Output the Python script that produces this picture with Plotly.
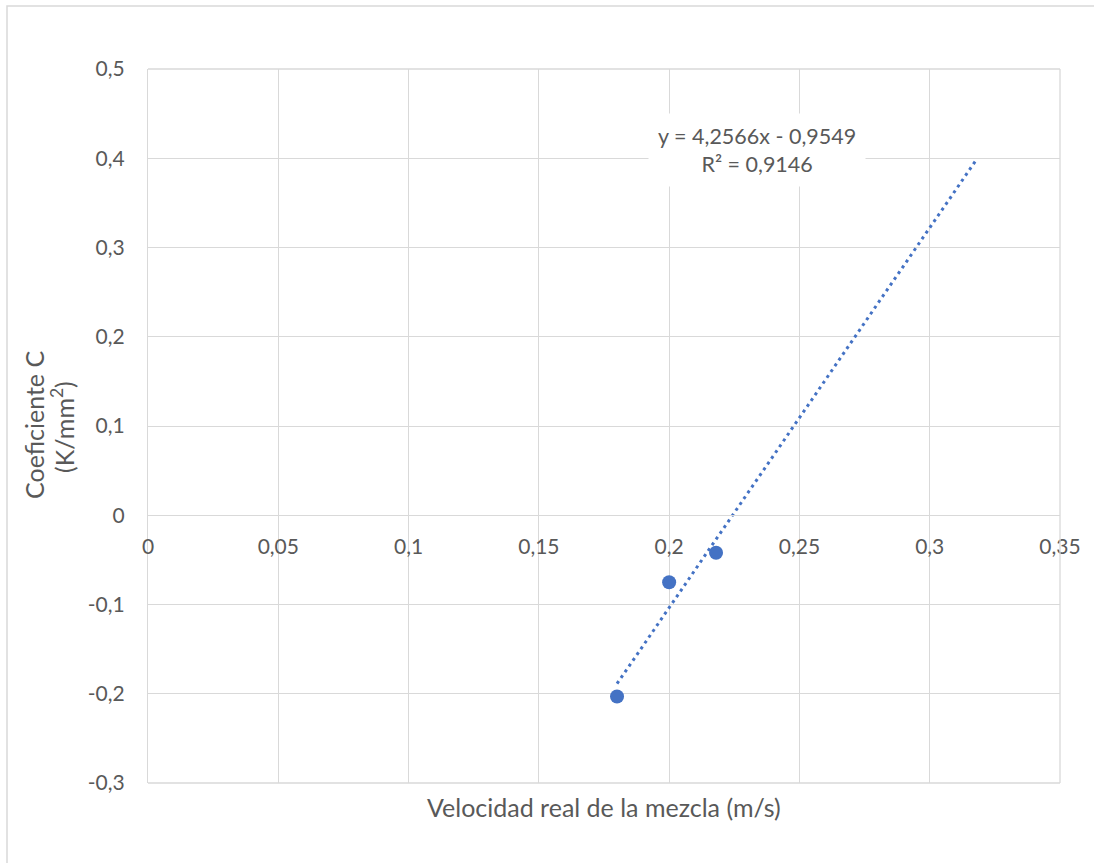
import plotly.graph_objects as go

# Data
velocidad = [0.18, 0.2, 0.218]
coef_c = [-0.203, -0.075, -0.042]
slope = 4.2566
intercept = -0.9549
r2 = 0.9146
trend_x = [0.18, 0.318]
trend_y = [slope * x + intercept for x in trend_x]
x_ticks = [0, 0.05, 0.1, 0.15, 0.2, 0.25, 0.3, 0.35]
x_tick_labels = ["0", "0,05", "0,1", "0,15", "0,2", "0,25", "0,3", "0,35"]
y_ticks = [-0.3, -0.2, -0.1, 0, 0.1, 0.2, 0.3, 0.4, 0.5]
y_tick_labels = ["-0,3", "-0,2", "-0,1", "0", "0,1", "0,2", "0,3", "0,4", "0,5"]

W, H = 1094, 863
L, R, T, B = 148, 34, 69, 80
pw, ph = W - L - R, H - T - B
blue = "#4472C4"
grid = "#d9d9d9"
txt = "#595959"
font = "Lato"
fs = 21

fig = go.Figure()
fig.add_trace(go.Scatter(x=trend_x, y=trend_y, mode="lines",
                         line=dict(color=blue, width=3, dash="3px,4px"),
                         hoverinfo="skip", showlegend=False))
fig.add_trace(go.Scatter(x=velocidad, y=coef_c, mode="markers",
                         marker=dict(color=blue, size=14), showlegend=False))

zero_pos = (0 - (-0.3)) / 0.8

def px_x(p):
    return (p - L) / pw

def px_y(p):
    return (H - B - p) / ph

fig.update_layout(
    width=W, height=H,
    margin=dict(l=L, r=R, t=T, b=B),
    paper_bgcolor="white", plot_bgcolor="white",
    separators=",.",
    font=dict(family=font, size=fs, color=txt),
    xaxis=dict(range=[0, 0.35], tickvals=x_ticks, ticktext=x_tick_labels,
               showgrid=True, gridcolor=grid, gridwidth=1.3,
               zeroline=False, showline=True, linecolor=grid, linewidth=1.3, mirror=False,
               anchor="free", position=zero_pos, ticks="", ticklabelstandoff=12,
               tickfont=dict(size=fs, color=txt, family=font)),
    yaxis=dict(range=[-0.3, 0.5], tickvals=y_ticks, ticktext=y_tick_labels,
               showgrid=True, gridcolor=grid, gridwidth=1.3,
               zeroline=False, showline=True, linecolor=grid, linewidth=1.3,
               ticks="", ticklabelstandoff=18,
               tickfont=dict(size=fs, color=txt, family=font)),
    shapes=[
        dict(type="rect", xref="paper", yref="paper",
             x0=px_x(7), x1=px_x(W + 20), y0=px_y(H + 20), y1=px_y(6),
             line=dict(color=grid, width=1.5), layer="below"),
        dict(type="line", xref="paper", yref="paper", x0=0, x1=1, y0=0, y1=0,
             line=dict(color=grid, width=1.3)),
        dict(type="line", xref="paper", yref="paper", x0=1, x1=1, y0=0, y1=1,
             line=dict(color=grid, width=1.3)),
        dict(type="line", xref="paper", yref="paper", x0=0, x1=1, y0=1, y1=1,
             line=dict(color=grid, width=1.3)),
    ],
    annotations=[
        dict(text=f"y = {str(slope).replace('.', ',')}x - {str(-intercept).replace('.', ',')}<br>R² = {str(r2).replace('.', ',')}",
             x=0.2337, y=0.409, xref="x", yref="y", showarrow=False,
             bgcolor="white", borderpad=9, font=dict(size=21.5, color=txt, family=font)),
        dict(text="Velocidad real de la mezcla (m/s)", xref="paper", yref="paper",
             x=0.5, y=px_y(807), showarrow=False, yanchor="middle",
             font=dict(size=25, color=txt, family=font)),
        dict(text="Coeficiente C", xref="paper", yref="paper",
             x=px_x(34), y=px_y(425), showarrow=False, textangle=-90,
             xanchor="center", yanchor="middle",
             font=dict(size=25, color=txt, family=font)),
        dict(text="(K/mm<sup>2</sup>)", xref="paper", yref="paper",
             x=px_x(62), y=px_y(427), showarrow=False, textangle=-90,
             xanchor="center", yanchor="middle",
             font=dict(size=25, color=txt, family=font)),
    ],
)

fig.write_html("out.html")
